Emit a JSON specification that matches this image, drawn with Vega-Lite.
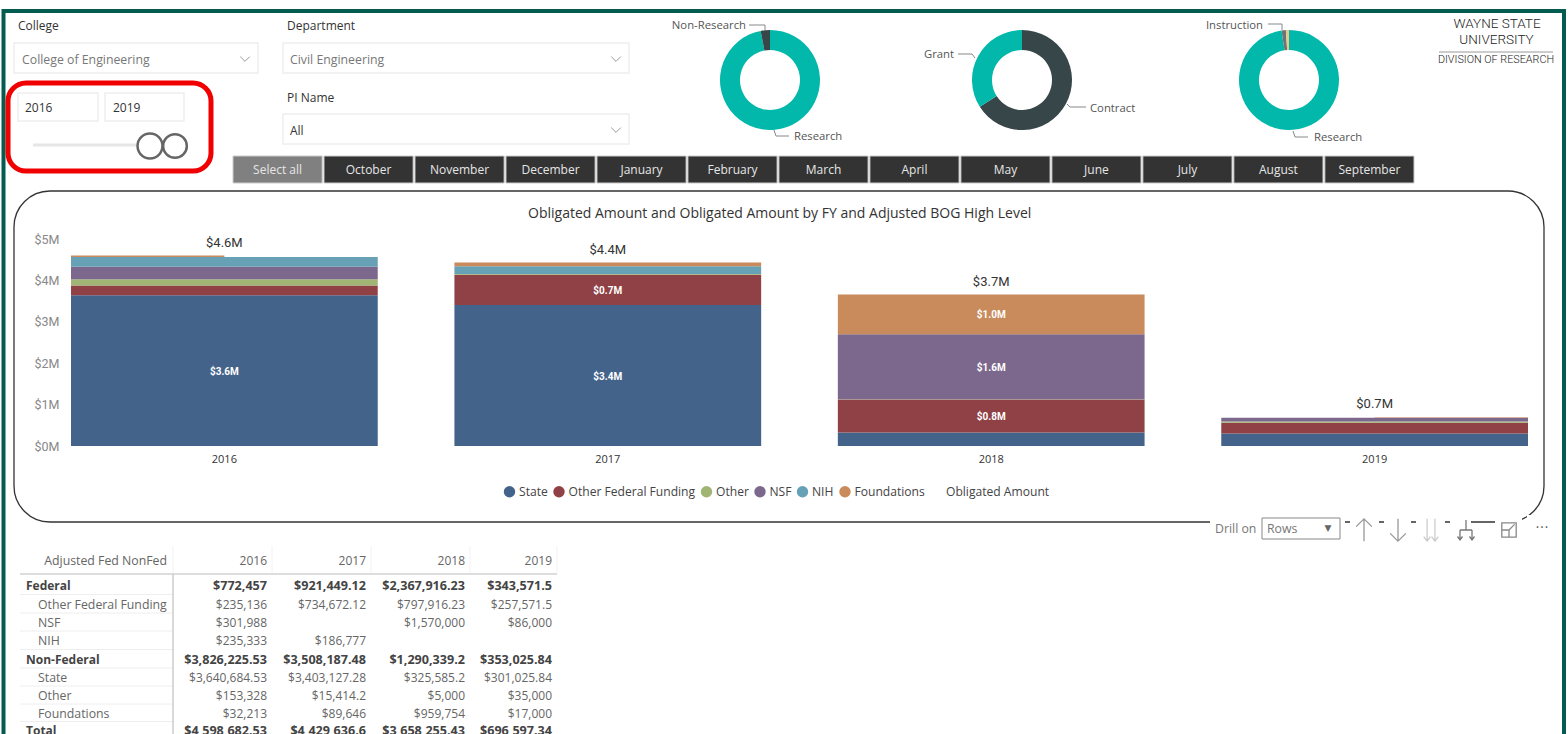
{
"$schema":"https://vega.github.io/schema/vega-lite/v6.json",
"width":1568,"height":734,"padding":0,"autosize":{"type":"none"},"background":"white",
"config":{"view":{"stroke":null},"font":"Open Sans"},
"datasets":{
"funding":[
{"fy":"2016","source":"State","rank":1,"amount":3640684.53},
{"fy":"2016","source":"Other Federal Funding","rank":2,"amount":235136},
{"fy":"2016","source":"Other","rank":3,"amount":153328},
{"fy":"2016","source":"NSF","rank":4,"amount":301988},
{"fy":"2016","source":"NIH","rank":5,"amount":235333},
{"fy":"2017","source":"State","rank":1,"amount":3403127.28},
{"fy":"2017","source":"Other Federal Funding","rank":2,"amount":734672.12},
{"fy":"2017","source":"Other","rank":3,"amount":15414.2},
{"fy":"2017","source":"NIH","rank":5,"amount":186777},
{"fy":"2017","source":"Foundations","rank":6,"amount":89646},
{"fy":"2018","source":"State","rank":1,"amount":325585.2},
{"fy":"2018","source":"Other Federal Funding","rank":2,"amount":797916.23},
{"fy":"2018","source":"Other","rank":3,"amount":5000},
{"fy":"2018","source":"NSF","rank":4,"amount":1570000},
{"fy":"2018","source":"Foundations","rank":6,"amount":959754},
{"fy":"2019","source":"State","rank":1,"amount":301025.84},
{"fy":"2019","source":"Other Federal Funding","rank":2,"amount":257571.5},
{"fy":"2019","source":"Other","rank":3,"amount":35000},
{"fy":"2019","source":"NSF","rank":4,"amount":86000}
],
"thinSlices":[
{"fy":"2016","half":"left","from":4566469.53,"to":4598682.53},
{"fy":"2019","half":"right","from":679597.34,"to":696597.34}
],
"segmentLabels":[
{"fy":"2016","at":1820342,"label":"$3.6M"},
{"fy":"2017","at":1701563,"label":"$3.4M"},
{"fy":"2017","at":3770463,"label":"$0.7M"},
{"fy":"2018","at":724543,"label":"$0.8M"},
{"fy":"2018","at":1913501,"label":"$1.6M"},
{"fy":"2018","at":3178378,"label":"$1.0M"}
],
"totals":[
{"fy":"2016","total":4598682.53,"label":"$4.6M"},
{"fy":"2017","total":4429636.6,"label":"$4.4M"},
{"fy":"2018","total":3658255.43,"label":"$3.7M"},
{"fy":"2019","total":696597.34,"label":"$0.7M"}
],
"months":[
{"month":"Select all","state":"on"},{"month":"October","state":"off"},{"month":"November","state":"off"},{"month":"December","state":"off"},{"month":"January","state":"off"},{"month":"February","state":"off"},{"month":"March","state":"off"},{"month":"April","state":"off"},{"month":"May","state":"off"},{"month":"June","state":"off"},{"month":"July","state":"off"},{"month":"August","state":"off"},{"month":"September","state":"off"}
],
"tableRows":[
{"line":1,"label":"Federal","level":"group"},
{"line":2,"label":"Other Federal Funding","level":"child"},
{"line":3,"label":"NSF","level":"child"},
{"line":4,"label":"NIH","level":"child"},
{"line":5,"label":"Non-Federal","level":"group"},
{"line":6,"label":"State","level":"child"},
{"line":7,"label":"Other","level":"child"},
{"line":8,"label":"Foundations","level":"child"},
{"line":9,"label":"Total","level":"group"}
],
"table":[
{"line":1,"level":"group","year":2016,"value":"$772,457"},
{"line":1,"level":"group","year":2017,"value":"$921,449.12"},
{"line":1,"level":"group","year":2018,"value":"$2,367,916.23"},
{"line":1,"level":"group","year":2019,"value":"$343,571.5"},
{"line":2,"level":"child","year":2016,"value":"$235,136"},
{"line":2,"level":"child","year":2017,"value":"$734,672.12"},
{"line":2,"level":"child","year":2018,"value":"$797,916.23"},
{"line":2,"level":"child","year":2019,"value":"$257,571.5"},
{"line":3,"level":"child","year":2016,"value":"$301,988"},
{"line":3,"level":"child","year":2018,"value":"$1,570,000"},
{"line":3,"level":"child","year":2019,"value":"$86,000"},
{"line":4,"level":"child","year":2016,"value":"$235,333"},
{"line":4,"level":"child","year":2017,"value":"$186,777"},
{"line":5,"level":"group","year":2016,"value":"$3,826,225.53"},
{"line":5,"level":"group","year":2017,"value":"$3,508,187.48"},
{"line":5,"level":"group","year":2018,"value":"$1,290,339.2"},
{"line":5,"level":"group","year":2019,"value":"$353,025.84"},
{"line":6,"level":"child","year":2016,"value":"$3,640,684.53"},
{"line":6,"level":"child","year":2017,"value":"$3,403,127.28"},
{"line":6,"level":"child","year":2018,"value":"$325,585.2"},
{"line":6,"level":"child","year":2019,"value":"$301,025.84"},
{"line":7,"level":"child","year":2016,"value":"$153,328"},
{"line":7,"level":"child","year":2017,"value":"$15,414.2"},
{"line":7,"level":"child","year":2018,"value":"$5,000"},
{"line":7,"level":"child","year":2019,"value":"$35,000"},
{"line":8,"level":"child","year":2016,"value":"$32,213"},
{"line":8,"level":"child","year":2017,"value":"$89,646"},
{"line":8,"level":"child","year":2018,"value":"$959,754"},
{"line":8,"level":"child","year":2019,"value":"$17,000"},
{"line":9,"level":"group","year":2016,"value":"$4,598,682.53"},
{"line":9,"level":"group","year":2017,"value":"$4,429,636.6"},
{"line":9,"level":"group","year":2018,"value":"$3,658,255.43"},
{"line":9,"level":"group","year":2019,"value":"$696,597.34"}
]
},
"resolve":{"scale":{"x":"independent","y":"independent","color":"independent","size":"independent","theta":"independent","xOffset":"independent","shape":"independent"}},
"layer":[
{"data":{"values":[{"part":"page frame"}]},"mark":{"type":"rect","filled":false,"stroke":"#045C50","strokeWidth":4},
 "encoding":{"x":{"datum":0,"type":"quantitative","scale":{"domain":[0,1],"range":[3.5,1564],"nice":false,"zero":false},"axis":null},"x2":{"datum":1},
 "y":{"datum":0,"type":"quantitative","scale":{"domain":[0,1],"range":[11,800],"nice":false,"zero":false},"axis":null},"y2":{"datum":1}}},

{"data":{"values":[{"part":"chart panel"}]},"mark":{"type":"rect","filled":false,"stroke":"#333333","strokeWidth":1.3,"cornerRadius":36},
 "encoding":{"x":{"datum":0,"type":"quantitative","scale":{"domain":[0,1],"range":[14,1544],"nice":false,"zero":false},"axis":null},"x2":{"datum":1},
 "y":{"datum":0,"type":"quantitative","scale":{"domain":[0,1],"range":[191,522],"nice":false,"zero":false},"axis":null},"y2":{"datum":1}}},

{"data":{"values":[{"m":1,"l":1,"r":2},{"m":2,"l":3,"r":4},{"m":3,"l":5,"r":6},{"m":4,"l":7,"r":8},{"m":5,"l":9,"r":10},{"m":6,"l":11,"r":12},{"m":7,"l":13,"r":14}]},
 "mark":{"type":"rect","fill":"white"},
 "encoding":{"x":{"field":"l","type":"quantitative","scale":{"domain":[1,2,3,4,5,6,7,8,9,10,11,12,13,14],"range":[1210,1345,1350,1379,1384,1411,1416,1445,1450,1471,1495,1522,1527,1560],"nice":false,"zero":false},"axis":null},"x2":{"field":"r"},
 "y":{"datum":0,"type":"quantitative","scale":{"domain":[0,1],"range":[515,545],"nice":false,"zero":false},"axis":null},"y2":{"datum":1}}},

{"data":{"values":[{"part":"page logo rule"}]},"mark":{"type":"rule","stroke":"#999999","strokeWidth":1},
 "encoding":{"x":{"datum":0,"type":"quantitative","scale":{"domain":[0,1],"range":[1439,1553],"nice":false,"zero":false},"axis":null},"x2":{"datum":1},
 "y":{"datum":0,"type":"quantitative","scale":{"domain":[0,1],"range":[52,60],"nice":false,"zero":false},"axis":null}}},

{"data":{"values":[{"b":"College","l":1,"r":2,"t":1,"u":2},{"b":"Department","l":3,"r":4,"t":1,"u":2},{"b":"PI Name","l":3,"r":4,"t":3,"u":4},{"b":"From","l":5,"r":6,"t":5,"u":6},{"b":"To","l":7,"r":8,"t":5,"u":6}]},
 "mark":{"type":"rect","filled":false,"stroke":"#EEEEEE","strokeWidth":1.5},
 "encoding":{"x":{"field":"l","type":"quantitative","scale":{"domain":[1,2,3,4,5,6,7,8],"range":[14,258,283,629,18,98,105,184],"nice":false,"zero":false},"axis":null},"x2":{"field":"r"},
 "y":{"field":"t","type":"quantitative","scale":{"domain":[1,2,3,4,5,6],"range":[43,73,114,144,93,121],"nice":false,"zero":false},"axis":null},"y2":{"field":"u"}}},

{"data":{"values":[{"part":"Rows dropdown"}]},"mark":{"type":"rect","filled":false,"stroke":"#888888","strokeWidth":1},
 "encoding":{"x":{"datum":0,"type":"quantitative","scale":{"domain":[0,1],"range":[1262,1340],"nice":false,"zero":false},"axis":null},"x2":{"datum":1},
 "y":{"datum":0,"type":"quantitative","scale":{"domain":[0,1],"range":[518,539],"nice":false,"zero":false},"axis":null},"y2":{"datum":1}}},

{"data":{"values":[{"part":"slicer highlight"}]},"mark":{"type":"rect","filled":false,"stroke":"#F00000","strokeWidth":5,"cornerRadius":18},
 "encoding":{"x":{"datum":0,"type":"quantitative","scale":{"domain":[0,1],"range":[8,211],"nice":false,"zero":false},"axis":null},"x2":{"datum":1},
 "y":{"datum":0,"type":"quantitative","scale":{"domain":[0,1],"range":[83,171],"nice":false,"zero":false},"axis":null},"y2":{"datum":1}}},

{"data":{"values":[{"part":"slider track"}]},"mark":{"type":"rule","stroke":"#E6E6E6","strokeWidth":3},
 "encoding":{"x":{"datum":0,"type":"quantitative","scale":{"domain":[0,1],"range":[33,140],"nice":false,"zero":false},"axis":null},"x2":{"datum":1},
 "y":{"datum":0,"type":"quantitative","scale":{"domain":[0,1],"range":[145,160],"nice":false,"zero":false},"axis":null}}},

{"data":{"values":[{"handle":2019}]},"mark":{"type":"point","filled":false,"stroke":"#666666","strokeWidth":2.5,"size":560,"opacity":1},
 "encoding":{"x":{"field":"handle","type":"quantitative","scale":{"domain":[2016,2019],"range":[150,175],"nice":false,"zero":false},"axis":null},
 "y":{"datum":0,"type":"quantitative","scale":{"domain":[0,1],"range":[146,160],"nice":false,"zero":false},"axis":null}}},
{"data":{"values":[{"handle":2016}]},"mark":{"type":"point","filled":true,"fill":"white","stroke":"#666666","strokeWidth":2.5,"size":620,"opacity":1},
 "encoding":{"x":{"field":"handle","type":"quantitative","scale":{"domain":[2016,2019],"range":[150,175],"nice":false,"zero":false},"axis":null},
 "y":{"datum":0,"type":"quantitative","scale":{"domain":[0,1],"range":[146,160],"nice":false,"zero":false},"axis":null}}},

{"data":{"values":[{"item":1},{"item":2},{"item":3}]},"mark":{"type":"point","shape":"M-1,-0.5L0,0.5L1,-0.5","filled":false,"stroke":"#999999","strokeWidth":1,"size":90,"opacity":1},
 "encoding":{"x":{"field":"item","type":"quantitative","scale":{"domain":[1,2,3],"range":[245,616,616],"nice":false,"zero":false},"axis":null},
 "y":{"field":"item","type":"quantitative","scale":{"domain":[1,2,3],"range":[59,59,130],"nice":false,"zero":false},"axis":null}}},

{"data":{"values":[
{"leader":"Non-Research","vertex":1},{"leader":"Non-Research","vertex":2},{"leader":"Non-Research","vertex":3},
{"leader":"Grant","vertex":4},{"leader":"Grant","vertex":5},{"leader":"Grant","vertex":6},
{"leader":"Contract","vertex":7},{"leader":"Contract","vertex":8},{"leader":"Contract","vertex":9},
{"leader":"Research A","vertex":10},{"leader":"Research A","vertex":11},{"leader":"Research A","vertex":12},
{"leader":"Research B","vertex":13},{"leader":"Research B","vertex":14},{"leader":"Research B","vertex":15},
{"leader":"Instruction","vertex":16},{"leader":"Instruction","vertex":17},{"leader":"Instruction","vertex":18}]},
 "mark":{"type":"line","stroke":"#888888","strokeWidth":1},
 "encoding":{"x":{"field":"vertex","type":"quantitative","scale":{"domain":[1,2,3,4,5,6,7,8,9,10,11,12,13,14,15,16,17,18],"range":[749,765,765,958,972,975,1067,1070,1086,774,776,789,1293,1295,1308,1268,1282,1282],"nice":false,"zero":false},"axis":null},
 "y":{"field":"vertex","type":"quantitative","scale":{"domain":[1,2,3,4,5,6,7,8,9,10,11,12,13,14,15,16,17,18],"range":[25,25,31,54,54,58,104,107,107,130,136,136,131,137,137,24,24,30],"nice":false,"zero":false},"axis":null},
 "detail":{"field":"leader"},"order":{"field":"vertex"}}},

{"data":{"values":[{"slice":"Research","rank":1,"share":97},{"slice":"Non-Research","rank":2,"share":3}]},
 "mark":{"type":"arc","innerRadius":30,"outerRadius":50},
 "encoding":{"x":{"datum":0,"type":"quantitative","scale":{"domain":[0,1],"range":[770,870],"nice":false,"zero":false},"axis":null},
 "y":{"datum":0,"type":"quantitative","scale":{"domain":[0,1],"range":[80,180],"nice":false,"zero":false},"axis":null},
 "theta":{"field":"share","type":"quantitative","stack":true},"order":{"field":"rank"},
 "color":{"field":"slice","type":"nominal","legend":null,"scale":{"domain":["Research","Non-Research"],"range":["#01B8AA","#374649"]}}}},

{"data":{"values":[{"slice":"Contract","rank":1,"share":66},{"slice":"Grant","rank":2,"share":34}]},
 "mark":{"type":"arc","innerRadius":30,"outerRadius":50},
 "encoding":{"x":{"datum":0,"type":"quantitative","scale":{"domain":[0,1],"range":[1022,1122],"nice":false,"zero":false},"axis":null},
 "y":{"datum":0,"type":"quantitative","scale":{"domain":[0,1],"range":[80,180],"nice":false,"zero":false},"axis":null},
 "theta":{"field":"share","type":"quantitative","stack":true},"order":{"field":"rank"},
 "color":{"field":"slice","type":"nominal","legend":null,"scale":{"domain":["Contract","Grant"],"range":["#374649","#01B8AA"]}}}},

{"data":{"values":[{"slice":"Research","rank":1,"share":97.6},{"slice":"Instruction","rank":2,"share":1.4},{"slice":"Other","rank":3,"share":1}]},
 "mark":{"type":"arc","innerRadius":30,"outerRadius":50},
 "encoding":{"x":{"datum":0,"type":"quantitative","scale":{"domain":[0,1],"range":[1289,1389],"nice":false,"zero":false},"axis":null},
 "y":{"datum":0,"type":"quantitative","scale":{"domain":[0,1],"range":[80,180],"nice":false,"zero":false},"axis":null},
 "theta":{"field":"share","type":"quantitative","stack":true},"order":{"field":"rank"},
 "color":{"field":"slice","type":"nominal","legend":null,"scale":{"domain":["Research","Instruction","Other"],"range":["#01B8AA","#6B7476","#E8C98A"]}}}},

{"data":{"values":[
{"item":1,"text":"College","kind":"heading"},{"item":2,"text":"Department","kind":"heading"},{"item":3,"text":"PI Name","kind":"heading"},
{"item":4,"text":"College of Engineering","kind":"muted"},{"item":5,"text":"Civil Engineering","kind":"muted"},{"item":6,"text":"All","kind":"heading"},
{"item":7,"text":"2016","kind":"heading"},{"item":8,"text":"2019","kind":"heading"},
{"item":9,"text":"Research","kind":"donut"},{"item":10,"text":"Contract","kind":"donut"},{"item":11,"text":"Research","kind":"donut"},
{"item":12,"text":"Drill on","kind":"muted"},{"item":13,"text":"Rows","kind":"muted"},{"item":14,"text":"Obligated Amount and Obligated Amount by FY and Adjusted BOG High Level","kind":"title"}]},
 "mark":{"type":"text","align":"left","baseline":"middle"},
 "encoding":{"x":{"field":"item","type":"quantitative","scale":{"domain":[1,2,3,4,5,6,7,8,9,10,11,12,13,14],"range":[18,287,287,22,290,290,25,113,794,1090,1314,1215,1267,528],"nice":false,"zero":false},"axis":null},
 "y":{"field":"item","type":"quantitative","scale":{"domain":[1,2,3,4,5,6,7,8,9,10,11,12,13,14],"range":[26,26,98,60,60,131,108,108,137,109,138,529,529,214],"nice":false,"zero":false},"axis":null},
 "text":{"field":"text"},
 "color":{"field":"kind","type":"nominal","legend":null,"scale":{"domain":["heading","muted","donut","title"],"range":["#333333","#777777","#555555","#333333"]}},
 "size":{"field":"kind","type":"nominal","legend":null,"scale":{"type":"ordinal","domain":["heading","muted","donut","title"],"range":[12,12.3,11.3,14]}}}},

{"data":{"values":[{"item":1,"text":"Non-Research"},{"item":2,"text":"Grant"},{"item":3,"text":"Instruction"}]},
 "mark":{"type":"text","align":"right","baseline":"middle","fontSize":11.3,"color":"#555555"},
 "encoding":{"x":{"field":"item","type":"quantitative","scale":{"domain":[1,2,3],"range":[746,954,1263],"nice":false,"zero":false},"axis":null},
 "y":{"field":"item","type":"quantitative","scale":{"domain":[1,2,3],"range":[26,55,26],"nice":false,"zero":false},"axis":null},
 "text":{"field":"text"}}},

{"data":{"values":[{"item":1,"text":"WAYNE STATE"},{"item":2,"text":"UNIVERSITY"},{"item":3,"text":"DIVISION OF RESEARCH"}]},
 "mark":{"type":"text","align":"center","baseline":"middle","font":"Roboto","fontWeight":300,"color":"#222222"},
 "encoding":{"x":{"field":"item","type":"quantitative","scale":{"domain":[1,3],"range":[1497,1496],"nice":false,"zero":false},"axis":null},
 "y":{"field":"item","type":"quantitative","scale":{"domain":[1,2,3],"range":[24,40,60],"nice":false,"zero":false},"axis":null},
 "text":{"field":"text"},
 "size":{"field":"item","type":"ordinal","legend":null,"scale":{"type":"ordinal","domain":[1,2,3],"range":[13.5,13.5,10.8]}}}},

{"data":{"values":[{"item":1,"text":"▼"},{"item":2,"text":"···"}]},
 "mark":{"type":"text","align":"center","baseline":"middle","font":"DejaVu Sans","color":"#666666"},
 "encoding":{"x":{"field":"item","type":"quantitative","scale":{"domain":[1,2],"range":[1328,1542],"nice":false,"zero":false},"axis":null},
 "y":{"datum":0,"type":"quantitative","scale":{"domain":[0,1],"range":[528,560],"nice":false,"zero":false},"axis":null},
 "text":{"field":"text"},
 "size":{"field":"item","type":"ordinal","legend":null,"scale":{"type":"ordinal","domain":[1,2],"range":[9,14]}}}},

{"data":{"values":[{"icon":"up","item":1},{"icon":"down","item":2},{"icon":"drill","item":3},{"icon":"fork","item":4},{"icon":"focus","item":5}]},
 "mark":{"type":"point","filled":false,"strokeWidth":1.3,"opacity":1},
 "encoding":{"x":{"field":"item","type":"quantitative","scale":{"domain":[1,2,3,4,5],"range":[1364,1398,1431,1466,1509],"nice":false,"zero":false},"axis":null},
 "y":{"datum":0,"type":"quantitative","scale":{"domain":[0,1],"range":[530,560],"nice":false,"zero":false},"axis":null},
 "shape":{"field":"icon","type":"nominal","legend":null,"scale":{"domain":["up","down","drill","fork","focus"],"range":["M0,-1L0,1M-0.7,-0.3L0,-1L0.7,-0.3","M0,-1L0,1M-0.7,0.3L0,1L0.7,0.3","M-0.35,-1L-0.35,1M-0.65,0.6L-0.35,1L-0.05,0.6M0.35,-1L0.35,1M0.05,0.6L0.35,1L0.65,0.6","M0,-1L0,0M-0.6,0L0.6,0M-0.6,0L-0.6,1M0.6,0L0.6,1M-0.85,0.65L-0.6,1L-0.35,0.65M0.35,0.65L0.6,1L0.85,0.65","M-0.9,-0.9L0.9,-0.9L0.9,0.9L-0.9,0.9ZM-0.9,0L0,0L0,0.9M0,0L0.7,-0.7"]}},
 "size":{"field":"icon","type":"nominal","legend":null,"scale":{"type":"ordinal","domain":["up","down","drill","fork","focus"],"range":[500,500,500,400,256]}},
 "stroke":{"field":"icon","type":"nominal","legend":null,"scale":{"domain":["up","down","drill","fork","focus"],"range":["#999999","#999999","#CCCCCC","#777777","#888888"]}}}},

{"encoding":{"x":{"field":"month","type":"nominal","sort":null,"scale":{"type":"band","domain":["Select all","October","November","December","January","February","March","April","May","June","July","August","September"],"range":[233,1414],"paddingInner":0.02,"paddingOuter":0},"axis":null}},
 "data":{"name":"months"},
 "layer":[
 {"mark":{"type":"rect","stroke":"#CCCCCC","strokeWidth":1},
  "encoding":{"y":{"datum":0,"type":"quantitative","scale":{"domain":[0,1],"range":[183,156],"nice":false,"zero":false},"axis":null},"y2":{"datum":1},
  "color":{"field":"state","type":"nominal","legend":null,"scale":{"domain":["on","off"],"range":["#808080","#333333"]}}}},
 {"mark":{"type":"text","align":"center","baseline":"middle","fontSize":12,"color":"#E6E6E6"},
  "encoding":{"y":{"datum":0.5,"type":"quantitative","axis":null},"text":{"field":"month"}}}
 ]},

{"encoding":{"x":{"field":"fy","type":"nominal","scale":{"type":"band","domain":["2016","2017","2018","2019"],"range":[71,1528],"paddingInner":0.2,"paddingOuter":0},
   "axis":{"title":null,"orient":"bottom","offset":-288,"ticks":false,"domain":false,"labelAngle":0,"labelPadding":7,"labelColor":"#333333","labelFontSize":11,"labelFont":"Open Sans"}},
   "y":{"type":"quantitative","title":null,"scale":{"domain":[0,5000000],"range":[446,239],"nice":false,"zero":false},
     "axis":{"title":null,"orient":"left","offset":-59,"values":[0,1000000,2000000,3000000,4000000,5000000],"labelExpr":"'$' + (datum.value/1000000) + 'M'","ticks":false,"domain":false,"grid":false,"labelPadding":0,"labelColor":"#888888","labelFontSize":12.5,"labelFont":"Roboto"}}},
 "layer":[
 {"data":{"name":"funding"},"mark":{"type":"bar"},
  "encoding":{"y":{"field":"amount","stack":"zero"},
   "order":{"field":"rank"},
   "color":{"field":"source","type":"nominal","scale":{"domain":["State","Other Federal Funding","Other","NSF","NIH","Foundations","Obligated Amount"],"range":["#44638B","#8F4145","#A0B574","#7C688C","#66A1B5","#C98B5B","transparent"]},
     "legend":{"title":null,"orient":"none","legendX":503,"legendY":485,"direction":"horizontal","symbolType":"circle","symbolSize":130,"labelFontSize":12.1,"labelColor":"#444444","labelFont":"Open Sans","columnPadding":4.5,"labelOffset":3}}}},
 {"data":{"name":"thinSlices"},"mark":{"type":"bar","color":"#C98B5B"},
  "encoding":{"xOffset":{"field":"half","type":"nominal","scale":{"domain":["left","right"],"paddingInner":0}},
   "y":{"field":"from"},"y2":{"field":"to"}}},
 {"data":{"name":"segmentLabels"},"mark":{"type":"text","align":"center","baseline":"middle","color":"white","fontSize":10,"fontWeight":"bold","font":"Roboto","dy":1},
  "encoding":{"y":{"field":"at"},"text":{"field":"label"}}},
 {"data":{"name":"totals"},"mark":{"type":"text","align":"center","baseline":"middle","color":"#333333","fontSize":13,"dy":-13,"font":"Roboto"},
  "encoding":{"y":{"field":"total"},"text":{"field":"label"}}}
 ]},

{"data":{"values":[{"line":1.5},{"line":2.5},{"line":3.5},{"line":4.5},{"line":5.5},{"line":6.5},{"line":7.5},{"line":8.5}]},
 "mark":{"type":"rule","stroke":"#EEEEEE","strokeWidth":1},
 "encoding":{"x":{"datum":0,"type":"quantitative","scale":{"domain":[0,1],"range":[20,173],"nice":false,"zero":false},"axis":null},"x2":{"datum":1},
 "y":{"field":"line","type":"quantitative","scale":{"domain":[0,1,2,3,4,5,6,7,8,9],"range":[560,585,604,622,640,659,677,695,713,730],"nice":false,"zero":false},"axis":null}}},

{"data":{"values":[{"edge":1},{"edge":2},{"edge":3},{"edge":4},{"edge":5}]},
 "mark":{"type":"rule","stroke":"#F2F2F2","strokeWidth":1},
 "encoding":{"x":{"field":"edge","type":"quantitative","scale":{"domain":[1,2,3,4,5],"range":[173,272,371,470,557],"nice":false,"zero":false},"axis":null},
 "y":{"datum":0,"type":"quantitative","scale":{"domain":[0,1],"range":[546,574],"nice":false,"zero":false},"axis":null},"y2":{"datum":1}}},

{"data":{"values":[{"part":"table header rule"}]},"mark":{"type":"rule","stroke":"#DDDDDD","strokeWidth":2},
 "encoding":{"x":{"datum":0,"type":"quantitative","scale":{"domain":[0,1],"range":[20,557],"nice":false,"zero":false},"axis":null},"x2":{"datum":1},
 "y":{"datum":0,"type":"quantitative","scale":{"domain":[0,1],"range":[574,600],"nice":false,"zero":false},"axis":null}}},

{"data":{"values":[{"part":"table row header rule"}]},"mark":{"type":"rule","stroke":"#CCCCCC","strokeWidth":1.5},
 "encoding":{"x":{"datum":0,"type":"quantitative","scale":{"domain":[0,1],"range":[173,300],"nice":false,"zero":false},"axis":null},
 "y":{"datum":0,"type":"quantitative","scale":{"domain":[0,1],"range":[574,734],"nice":false,"zero":false},"axis":null},"y2":{"datum":1}}},

{"data":{"values":[{"year":2016},{"year":2017},{"year":2018},{"year":2019}]},
 "mark":{"type":"text","align":"right","baseline":"middle","fontSize":12,"color":"#666666"},
 "encoding":{"x":{"field":"year","type":"quantitative","scale":{"domain":[2016,2017,2018,2019],"range":[267,366,465,552],"nice":false,"zero":false},"axis":null},
 "y":{"datum":0,"type":"quantitative","scale":{"domain":[0,1],"range":[561,600],"nice":false,"zero":false},"axis":null},
 "text":{"field":"year","type":"quantitative","format":"d"}}},

{"data":{"values":[{"heading":"Adjusted Fed NonFed"}]},
 "mark":{"type":"text","align":"right","baseline":"middle","fontSize":12.3,"color":"#666666"},
 "encoding":{"x":{"datum":0,"type":"quantitative","scale":{"domain":[0,1],"range":[167,300],"nice":false,"zero":false},"axis":null},
 "y":{"datum":0,"type":"quantitative","scale":{"domain":[0,1],"range":[561,600],"nice":false,"zero":false},"axis":null},
 "text":{"field":"heading"}}},

{"data":{"name":"tableRows"},"transform":[{"filter":"datum.level === 'child'"}],
 "mark":{"type":"text","align":"left","baseline":"middle","fontSize":12.3,"color":"#666666"},
 "encoding":{"x":{"datum":0,"type":"quantitative","scale":{"domain":[0,1],"range":[38,138],"nice":false,"zero":false},"axis":null},
 "y":{"field":"line","type":"quantitative","scale":{"domain":[0,1,2,3,4,5,6,7,8,9],"range":[561,586,605,623,641,660,678,696,714,731],"nice":false,"zero":false},"axis":null},
 "text":{"field":"label"}}},

{"data":{"name":"tableRows"},"transform":[{"filter":"datum.level === 'group'"}],
 "mark":{"type":"text","align":"left","baseline":"middle","fontSize":12,"fontWeight":"bold","color":"#444444"},
 "encoding":{"x":{"datum":0,"type":"quantitative","scale":{"domain":[0,1],"range":[26,126],"nice":false,"zero":false},"axis":null},
 "y":{"field":"line","type":"quantitative","scale":{"domain":[0,1,2,3,4,5,6,7,8,9],"range":[561,586,605,623,641,660,678,696,714,731],"nice":false,"zero":false},"axis":null},
 "text":{"field":"label"}}},

{"data":{"name":"table"},"transform":[{"filter":"datum.level === 'child'"}],
 "mark":{"type":"text","align":"right","baseline":"middle","fontSize":12,"color":"#666666"},
 "encoding":{"x":{"field":"year","type":"quantitative","scale":{"domain":[2016,2017,2018,2019],"range":[267,366,465,552],"nice":false,"zero":false},"axis":null},
 "y":{"field":"line","type":"quantitative","scale":{"domain":[0,1,2,3,4,5,6,7,8,9],"range":[561,586,605,623,641,660,678,696,714,731],"nice":false,"zero":false},"axis":null},
 "text":{"field":"value"}}},

{"data":{"name":"table"},"transform":[{"filter":"datum.level === 'group'"}],
 "mark":{"type":"text","align":"right","baseline":"middle","fontSize":12.6,"fontWeight":"bold","color":"#444444"},
 "encoding":{"x":{"field":"year","type":"quantitative","scale":{"domain":[2016,2017,2018,2019],"range":[267,366,465,552],"nice":false,"zero":false},"axis":null},
 "y":{"field":"line","type":"quantitative","scale":{"domain":[0,1,2,3,4,5,6,7,8,9],"range":[561,586,605,623,641,660,678,696,714,731],"nice":false,"zero":false},"axis":null},
 "text":{"field":"value"}}}
]
}
